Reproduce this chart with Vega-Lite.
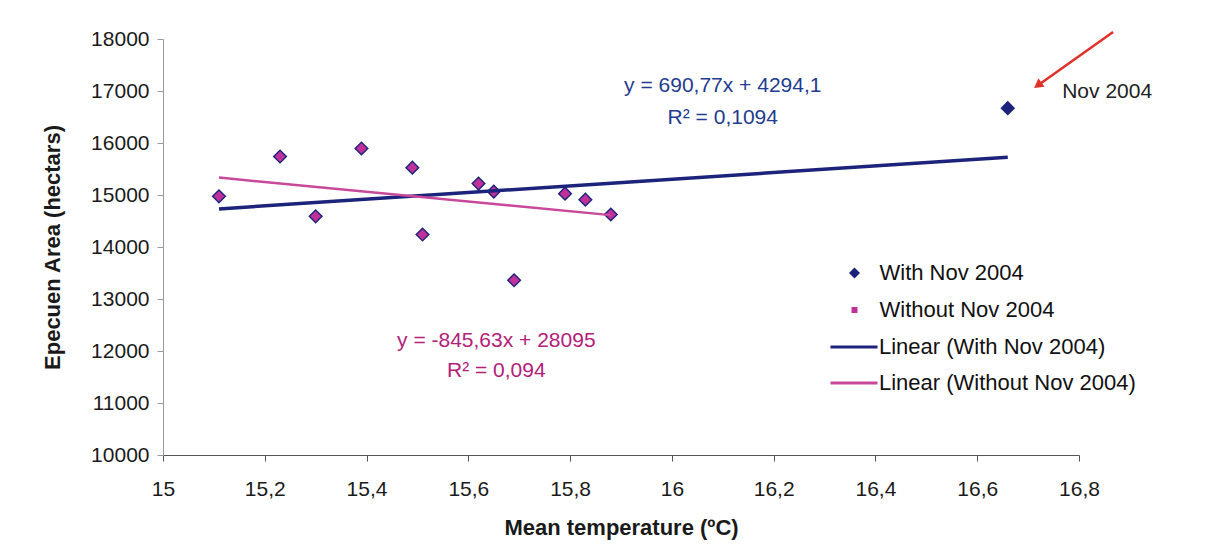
{
  "$schema": "https://vega.github.io/schema/vega-lite/v6.json",
  "width": 916,
  "height": 416,
  "autosize": {"type": "none"},
  "padding": {"left": 163, "top": 39, "right": 129, "bottom": 101},
  "background": "#ffffff",
  "config": {
    "view": {"stroke": null},
    "font": "Liberation Sans",
    "axis": {
      "grid": false,
      "labelFont": "Liberation Sans",
      "labelFontSize": 21,
      "labelColor": "#1a1a1a",
      "labelFlush": false,
      "titleFont": "Liberation Sans",
      "titleFontSize": 22,
      "titleFontWeight": "bold",
      "titleColor": "#1a1a1a",
      "domainColor": "#555555",
      "tickColor": "#555555",
      "tickSize": 6,
      "ticks": true
    },
    "legend": {
      "title": null,
      "orient": "none",
      "padding": 0,
      "labelFont": "Liberation Sans",
      "labelFontSize": 22,
      "labelColor": "#111111",
      "labelLimit": 500,
      "symbolStrokeWidth": 3
    }
  },
  "data": {
    "values": [
      {"temp": 15.11, "area": 14975, "nov": false},
      {"temp": 15.23, "area": 15740, "nov": false},
      {"temp": 15.30, "area": 14590, "nov": false},
      {"temp": 15.39, "area": 15895, "nov": false},
      {"temp": 15.49, "area": 15525, "nov": false},
      {"temp": 15.51, "area": 14240, "nov": false},
      {"temp": 15.62, "area": 15220, "nov": false},
      {"temp": 15.65, "area": 15065, "nov": false},
      {"temp": 15.69, "area": 13360, "nov": false},
      {"temp": 15.79, "area": 15025, "nov": false},
      {"temp": 15.83, "area": 14910, "nov": false},
      {"temp": 15.88, "area": 14625, "nov": false},
      {"temp": 16.66, "area": 16670, "nov": true}
    ]
  },
  "encoding": {
    "x": {
      "field": "temp", "type": "quantitative",
      "scale": {"domain": [15, 16.8], "nice": false, "zero": false},
      "axis": {
        "title": "Mean temperature (ºC)",
        "values": [15, 15.2, 15.4, 15.6, 15.8, 16, 16.2, 16.4, 16.6, 16.8],
        "labelExpr": "replace(format(datum.value, '.1~f'), '.', ',')",
        "labelPadding": 17,
        "titlePadding": 18
      }
    },
    "y": {
      "field": "area", "type": "quantitative",
      "scale": {"domain": [10000, 18000], "nice": false, "zero": false},
      "axis": {
        "title": "Epecuen Area  (hectars)",
        "values": [10000, 11000, 12000, 13000, 14000, 15000, 16000, 17000, 18000],
        "format": "d",
        "labelPadding": 8,
        "titlePadding": 26,
        "domainColor": "#999999",
        "tickColor": "#999999"
      }
    }
  },
  "layer": [
    {
      "transform": [{"filter": "false"}],
      "mark": {"type": "point", "filled": true, "opacity": 1},
      "encoding": {
        "color": {
          "datum": "With Nov 2004",
          "scale": {
            "domain": ["With Nov 2004", "Without Nov 2004"],
            "range": ["#1c237a", "#c0309a"]
          },
          "legend": {"legendX": 680.5, "legendY": 223, "labelOffset": 14, "rowPadding": 15}
        },
        "shape": {
          "datum": "With Nov 2004",
          "scale": {
            "domain": ["With Nov 2004", "Without Nov 2004"],
            "range": ["diamond", "square"]
          },
          "legend": {"legendX": 680.5, "legendY": 223, "labelOffset": 14, "rowPadding": 15}
        },
        "size": {
          "datum": "With Nov 2004",
          "type": "nominal",
          "scale": {
            "type": "ordinal",
            "domain": ["With Nov 2004", "Without Nov 2004"],
            "range": [121, 36]
          },
          "legend": {"legendX": 680.5, "legendY": 223, "labelOffset": 14, "rowPadding": 15}
        }
      }
    },
    {
      "transform": [{"filter": "false"}],
      "mark": {"type": "line", "strokeWidth": 3},
      "encoding": {
        "stroke": {
          "datum": "Linear (With Nov 2004)",
          "scale": {
            "domain": ["Linear (With Nov 2004)", "Linear (Without Nov 2004)"],
            "range": ["#1c237a", "#c8489a"]
          },
          "legend": {"legendX": 666, "legendY": 283, "labelOffset": 0, "rowPadding": -6, "symbolSize": 2209, "symbolType": "stroke"}
        }
      }
    },
    {
      "mark": {"type": "point", "filled": true, "opacity": 1, "size": 215, "shape": "diamond", "color": "#1c237a"}
    },
    {
      "transform": [{"filter": "datum.nov === false"}],
      "mark": {"type": "point", "filled": true, "opacity": 1, "size": 115, "shape": "diamond", "color": "#c0309a"}
    },
    {
      "transform": [{"regression": "area", "on": "temp"}],
      "mark": {"type": "line", "strokeWidth": 3.5, "color": "#1c237a"}
    },
    {
      "transform": [{"filter": "datum.nov === false"}, {"regression": "area", "on": "temp"}],
      "mark": {"type": "line", "strokeWidth": 2.5, "color": "#c8489a"}
    },
    {
      "transform": [{"filter": "datum.nov === true"}],
      "mark": {"type": "text", "fontSize": 21, "font": "Liberation Sans", "color": "#1f3c8f", "align": "center", "baseline": "middle"},
      "encoding": {
        "x": {"datum": 16.1, "type": "quantitative"},
        "y": {"datum": 17095, "type": "quantitative"},
        "text": {"value": "y = 690,77x + 4294,1"}
      }
    },
    {
      "transform": [{"filter": "datum.nov === true"}],
      "mark": {"type": "text", "fontSize": 21, "font": "Liberation Sans", "color": "#1f3c8f", "align": "center", "baseline": "middle"},
      "encoding": {
        "x": {"datum": 16.1, "type": "quantitative"},
        "y": {"datum": 16480, "type": "quantitative"},
        "text": {"value": "R² = 0,1094"}
      }
    },
    {
      "transform": [{"filter": "datum.nov === true"}],
      "mark": {"type": "text", "fontSize": 21, "font": "Liberation Sans", "color": "#b3207a", "align": "center", "baseline": "middle"},
      "encoding": {
        "x": {"datum": 15.655, "type": "quantitative"},
        "y": {"datum": 12200, "type": "quantitative"},
        "text": {"value": "y = -845,63x + 28095"}
      }
    },
    {
      "transform": [{"filter": "datum.nov === true"}],
      "mark": {"type": "text", "fontSize": 21, "font": "Liberation Sans", "color": "#b3207a", "align": "center", "baseline": "middle"},
      "encoding": {
        "x": {"datum": 15.655, "type": "quantitative"},
        "y": {"datum": 11620, "type": "quantitative"},
        "text": {"value": "R² = 0,094"}
      }
    },
    {
      "transform": [{"filter": "datum.nov === true"}],
      "mark": {"type": "text", "fontSize": 21, "font": "Liberation Sans", "color": "#222222", "align": "left", "baseline": "middle"},
      "encoding": {
        "x": {"datum": 16.767, "type": "quantitative"},
        "y": {"datum": 16980, "type": "quantitative"},
        "text": {"value": "Nov 2004"}
      }
    },
    {
      "transform": [{"filter": "datum.nov === true"}],
      "mark": {"type": "rule", "color": "#e0302a", "strokeWidth": 2.5},
      "encoding": {
        "x": {"datum": 16.867, "type": "quantitative"},
        "y": {"datum": 18135, "type": "quantitative"},
        "x2": {"datum": 16.725},
        "y2": {"datum": 17150}
      }
    },
    {
      "transform": [{"filter": "datum.nov === true"}],
      "mark": {"type": "point", "shape": "triangle-up", "filled": true, "color": "#e0302a", "opacity": 1, "size": 110, "angle": 234},
      "encoding": {
        "x": {"datum": 16.719, "type": "quantitative"},
        "y": {"datum": 17110, "type": "quantitative"}
      }
    }
  ]
}
